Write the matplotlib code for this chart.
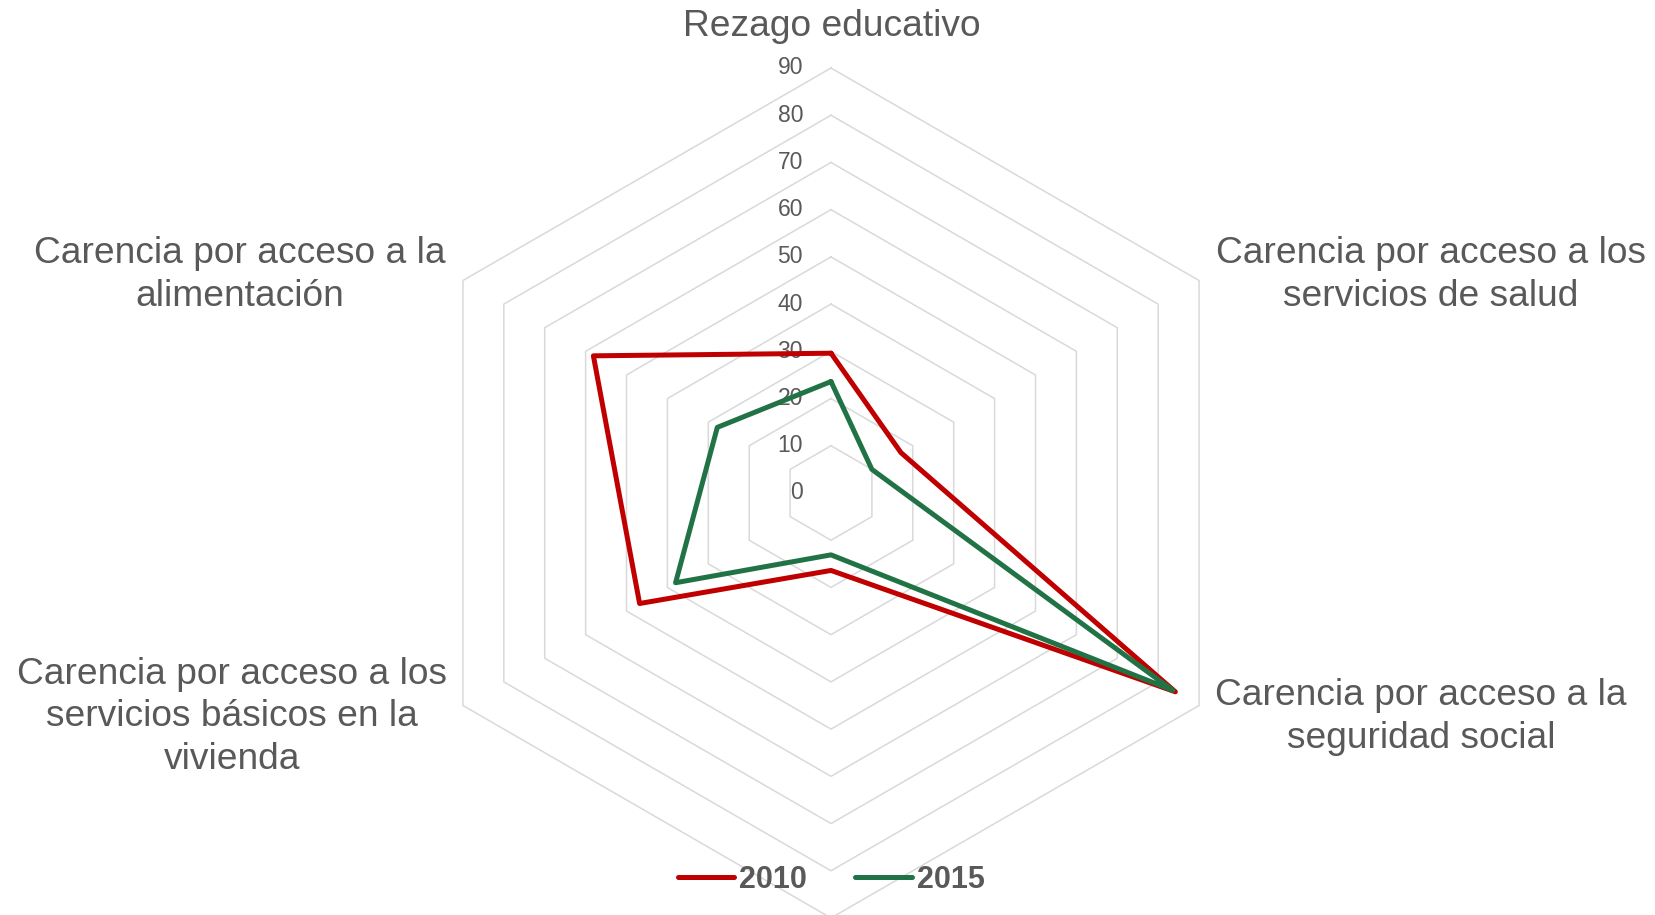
import numpy as np
import matplotlib
matplotlib.use("Agg")
import matplotlib.pyplot as plt

# datos (porcentaje de poblacion con carencia)
categorias = ["Rezago educativo",
              "Carencia por acceso a los\nservicios de salud",
              "Carencia por acceso a la\nseguridad social",
              "",  # eje inferior, etiqueta fuera de la imagen
              "Carencia por acceso a los\nservicios básicos en la\nvivienda",
              "Carencia por acceso a la\nalimentación"]
anios = ["2010", "2015"]
valores_2010 = [29.6, 17.1, 84.2, 16.4, 46.8, 58.1]
valores_2015 = [23.6, 10.0, 83.6, 13.1, 38.0, 27.8]
niveles = [0, 10, 20, 30, 40, 50, 60, 70, 80, 90]

colores = ["#C00000", "#217346"]
gris = "#595959"

plt.rcParams['font.family'] = ['Liberation Sans', 'DejaVu Sans']

W, H = 1655, 915
fig = plt.figure(figsize=(W / 100, H / 100), dpi=100)

# eje polar: centro (831, 493) px desde arriba, radio 425 px
cx, cy, R = 831, 493, 425
ax = fig.add_axes([(cx - R) / W, (H - cy - R) / H, 2 * R / W, 2 * R / H],
                  projection='polar')
ax.set_theta_offset(np.pi / 2)
ax.set_theta_direction(-1)
ax.set_ylim(0, 90)
ax.grid(False)
ax.spines['polar'].set_visible(False)
ax.set_xticks([])
ax.set_yticks([])
ax.patch.set_alpha(0)

n = len(categorias)
ang = np.linspace(0, 2 * np.pi, n, endpoint=False)
ang_c = np.concatenate([ang, ang[:1]])

# rejilla hexagonal
for r in niveles[1:]:
    ax.plot(ang_c, [r] * (n + 1), color="#D9D9D9", lw=1.1, clip_on=False, zorder=1)

# etiquetas del eje radial
for r in niveles:
    ax.annotate(str(r), xy=(0, r), xytext=(-28, 0), textcoords='offset pixels',
                ha='right', va='center', fontsize=16.5, color=gris, zorder=2)

# series
for vals, lab, col in zip([valores_2010, valores_2015], anios, colores):
    v = np.concatenate([vals, vals[:1]])
    ax.plot(ang_c, v, color=col, lw=3.6, label=lab, zorder=3,
            solid_joinstyle='round', solid_capstyle='round')

# etiquetas de categorias (posiciones en px)
pos_etq = {0: (832, 26), 1: (1431, 275), 2: (1421, 717), 4: (232, 717), 5: (240, 275)}
for i, (x, y) in pos_etq.items():
    fig.text(x / W, 1 - y / H, categorias[i], ha='center', va='center',
             fontsize=26.7, color=gris, linespacing=1.26)

leg = fig.legend(loc='center', bbox_to_anchor=(831 / W, 1 - 880 / H), ncol=2,
                 frameon=False, handlelength=1.85, handletextpad=0.15,
                 columnspacing=1.6, prop={'size': 22, 'weight': 'bold'})
for t in leg.get_texts():
    t.set_color(gris)

fig.savefig("out.png", dpi=100)
